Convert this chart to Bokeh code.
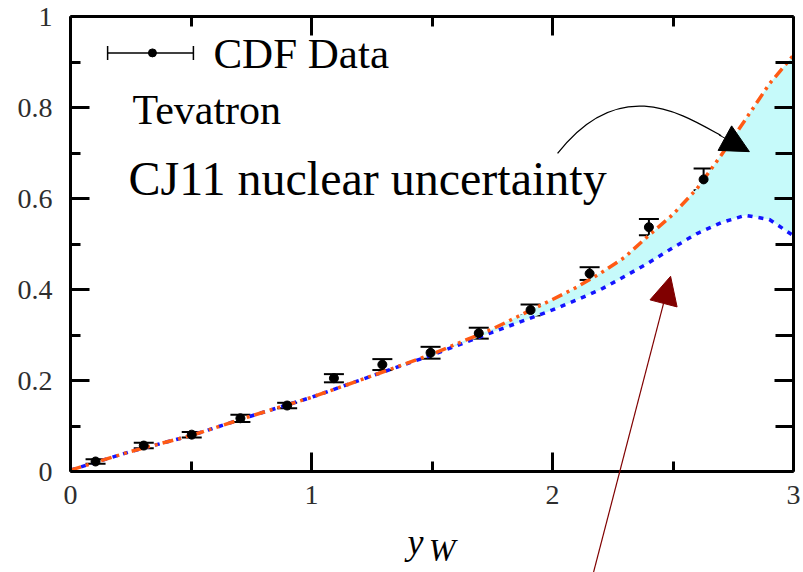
from bokeh.plotting import figure
from bokeh.models import (Range1d, LinearAxis, FixedTicker, ColumnDataSource, Whisker,
                          TeeHead, Label, Arrow, NormalHead)
from bokeh.embed import file_html
from bokeh.resources import INLINE

# ---- data ----
y_w = [0.104, 0.304, 0.503, 0.705, 0.899, 1.093, 1.294, 1.494, 1.694, 1.909, 2.154, 2.400, 2.627]
asym = [0.022, 0.057, 0.081, 0.117, 0.145, 0.205, 0.235, 0.261, 0.304, 0.355, 0.435, 0.537, 0.642]
err = [0.005, 0.006, 0.006, 0.008, 0.006, 0.009, 0.012, 0.013, 0.012, 0.012, 0.014, 0.018, 0.024]

curve_x = [0.0, 0.25, 0.5, 0.75, 1.0, 1.25, 1.5, 1.75, 2.0, 2.1, 2.2, 2.3, 2.4, 2.5, 2.6, 2.7, 2.8, 2.9, 3.0]
upper = [0.003, 0.044, 0.079, 0.122, 0.163, 0.210, 0.258, 0.313, 0.378, 0.405, 0.436, 0.471, 0.519, 0.565, 0.622, 0.695, 0.773, 0.852, 0.915]
lower = [0.003, 0.044, 0.079, 0.122, 0.163, 0.210, 0.256, 0.306, 0.355, 0.377, 0.400, 0.429, 0.459, 0.492, 0.523, 0.547, 0.563, 0.554, 0.518]

x_ticks = [0, 1, 2, 3]
x_minor = [0.5, 1.5, 2.5]
y_ticks = [0, 0.2, 0.4, 0.6, 0.8, 1.0]
y_minor = [0.1, 0.3, 0.5, 0.7, 0.9]
y_labels = {0: "0", 0.2: "0.2", 0.4: "0.4", 0.6: "0.6", 0.8: "0.8", 1.0: "1"}

SERIF = "Liberation Serif"

# pixel scale of the reference: 241 px per unit in x, 455 px per unit in y;
# the frame fills the whole page and the four axes are pinned at the box edges
XPX, YPX = 241.0, 455.0
p = figure(width=803, height=572, output_backend="svg", toolbar_location=None,
           x_range=Range1d(-70 / XPX, 3 + 10 / XPX),
           y_range=Range1d(-101 / YPX, 1 + 16 / YPX),
           min_border=0, x_axis_location=None, y_axis_location=None)
p.grid.visible = False
p.outline_line_color = None
p.background_fill_color = "white"
p.border_fill_color = "white"

def style_axis(ax, labels=True):
    ax.axis_line_width = 3
    ax.axis_line_color = "black"
    ax.major_tick_in = 19
    ax.major_tick_out = 0
    ax.minor_tick_in = 10
    ax.minor_tick_out = 0
    ax.major_tick_line_width = 3
    ax.minor_tick_line_width = 3
    if labels:
        ax.major_label_text_font = SERIF
        ax.major_label_text_font_size = "28px"
        ax.major_label_text_color = "#2e2e2e"
    else:
        ax.major_label_text_font_size = "1px"
        ax.major_label_text_color = None
        ax.major_label_standoff = 0

bottom = LinearAxis(ticker=FixedTicker(ticks=x_ticks, minor_ticks=x_minor),
                    fixed_location=0, bounds=(0, 3))
style_axis(bottom)
bottom.major_label_standoff = 14
top = LinearAxis(ticker=FixedTicker(ticks=x_ticks, minor_ticks=x_minor),
                 fixed_location=1, bounds=(0, 3))
style_axis(top, labels=False)
left = LinearAxis(ticker=FixedTicker(ticks=y_ticks, minor_ticks=y_minor),
                  fixed_location=0, bounds=(0, 1))
style_axis(left)
left.major_label_standoff = 18
left.major_label_overrides = y_labels
right = LinearAxis(ticker=FixedTicker(ticks=y_ticks, minor_ticks=y_minor),
                   fixed_location=3, bounds=(0, 1))
style_axis(right, labels=False)
right.minor_tick_in = 18

p.add_layout(bottom, "below")
p.add_layout(top, "above")
p.add_layout(left, "left")
p.add_layout(right, "right")

# uncertainty band
csrc = ColumnDataSource(dict(x=curve_x, up=upper, lo=lower))
p.varea(x="x", y1="lo", y2="up", source=csrc, fill_color="#c6fafa")
p.line(x="x", y="lo", source=csrc, line_color="#1414ff", line_width=3.5, line_dash="5 6")
p.line(x="x", y="up", source=csrc, line_color="#ff5a14", line_width=3.5, line_dash="11 5 3 5 3 5")

# data points with error bars
dsrc = ColumnDataSource(dict(x=y_w, y=asym,
                             lo=[a - e for a, e in zip(asym, err)],
                             hi=[a + e for a, e in zip(asym, err)]))
p.add_layout(Whisker(source=dsrc, base="x", lower="lo", upper="hi", dimension="height",
                     line_color="black", line_width=2,
                     upper_head=TeeHead(size=20, line_width=2, line_color="black"),
                     lower_head=TeeHead(size=20, line_width=2, line_color="black")))
p.scatter(x="x", y="y", source=dsrc, size=9, color="black")

# legend entry (drawn by hand)
lsrc = ColumnDataSource(dict(y=[0.92], lo=[0.154], hi=[0.510], x=[0.340]))
p.add_layout(Whisker(source=lsrc, base="y", lower="lo", upper="hi", dimension="width",
                     line_color="black", line_width=1.5,
                     upper_head=TeeHead(size=14, line_width=1.5, line_color="black"),
                     lower_head=TeeHead(size=14, line_width=1.5, line_color="black")))
p.scatter(x="x", y="y", source=lsrc, size=8, color="black")
p.add_layout(Label(x=0.593, y=0.918, text="CDF Data", text_font=SERIF, text_font_size="43px",
                   text_baseline="middle", text_color="black"))
p.add_layout(Label(x=0.257, y=0.795, text="Tevatron", text_font=SERIF, text_font_size="42px",
                   text_baseline="middle", text_color="black"))
p.add_layout(Label(x=0.241, y=0.644, text="CJ11 nuclear uncertainty", text_font=SERIF,
                   text_font_size="48px", text_baseline="middle", text_color="black"))

# axis title y_W
p.add_layout(Label(x=1.398, y=-0.198, text="y", text_font=SERIF, text_font_size="36px",
                   text_font_style="italic", text_color="black"))
p.add_layout(Label(x=1.486, y=-0.212, text="W", text_font=SERIF, text_font_size="32px",
                   text_font_style="italic", text_color="black"))

# curved black arrow
p.bezier(x0=[2.021], y0=[0.699], x1=[2.70], y1=[0.738], cx0=[2.28], cy0=[0.875],
         cx1=[2.54], cy1=[0.785], line_color="black", line_width=1.3)
p.add_layout(Arrow(x_start=2.69, y_start=0.740, x_end=2.817, y_end=0.703, line_width=1,
                   end=NormalHead(size=28, fill_color="black", line_color="black")))

# dark red arrow
p.add_layout(Arrow(x_start=2.170, y_start=-0.222, x_end=2.490, y_end=0.429,
                   line_color="#800000", line_width=1.2,
                   end=NormalHead(size=28, fill_color="#800000", line_color="#800000")))

open("out.html", "w").write(file_html(p, INLINE))
